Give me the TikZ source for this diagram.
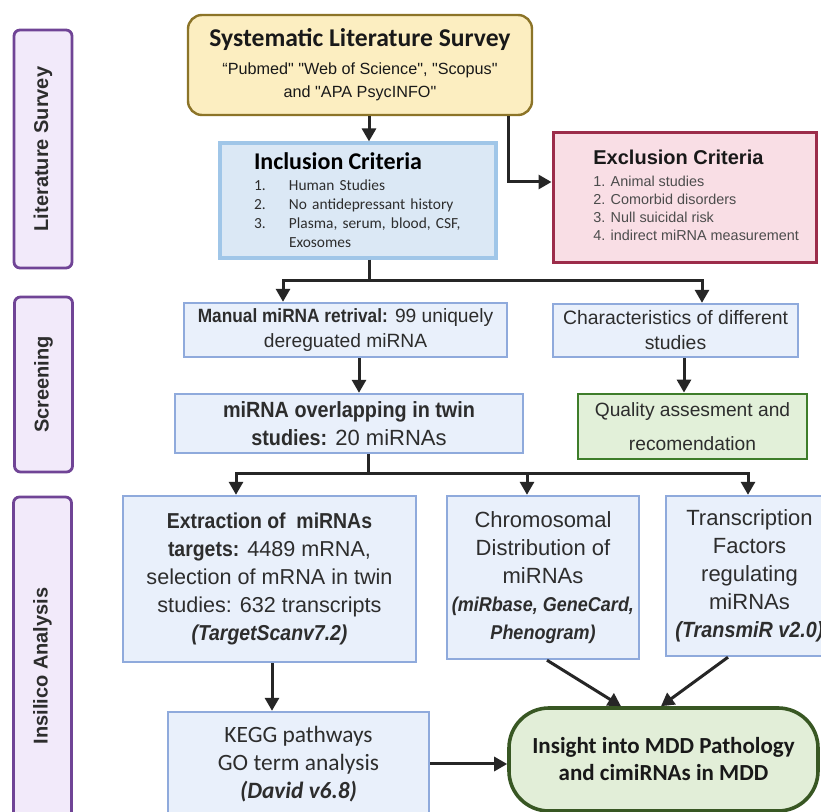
\documentclass[tikz,border=0pt]{standalone}
\usepackage{fontspec}
\setmainfont{Liberation Sans}[Ligatures=TeXOff,BoldFeatures={FakeStretch=0.9},BoldItalicFeatures={FakeStretch=0.9}]
\newfontfamily\plainsans{Liberation Sans}[Ligatures=TeXOff]
\newfontfamily\calfont{Carlito}
\usepackage{tikz}
\usetikzlibrary{arrows.meta,shapes,positioning}
\usepackage{xcolor}
\definecolor{stagepurple}{RGB}{112,68,150}
\definecolor{stagefill}{RGB}{242,234,250}
\definecolor{surveygold}{RGB}{140,116,40}
\definecolor{surveyfill}{RGB}{252,238,193}
\definecolor{inclblue}{RGB}{160,198,232}
\definecolor{inclfill}{RGB}{219,232,245}
\definecolor{procblue}{RGB}{143,170,220}
\definecolor{procfill}{RGB}{233,240,251}
\definecolor{exclred}{RGB}{156,44,74}
\definecolor{exclfill}{RGB}{249,222,229}
\definecolor{qualgreen}{RGB}{62,125,42}
\definecolor{qualfill}{RGB}{226,240,217}
\definecolor{insightgreen}{RGB}{56,87,35}
\definecolor{insightfill}{RGB}{226,238,216}
\definecolor{textgray}{RGB}{45,45,45}
\tikzstyle{arrow} = [line width=1.5pt, -{Triangle[width=7pt,length=6.5pt]}, color=black!85]
\tikzstyle{stage} = [rectangle, rounded corners=3pt, rotate=90, draw=stagepurple, fill=stagefill, line width=1.4pt, minimum height=29pt, text=textgray, font=\plainsans\bfseries\fontsize{10}{12}\selectfont]
\tikzstyle{procbox} = [rectangle, draw=procblue, fill=procfill, line width=1.2pt, align=center, inner sep=0pt, text=textgray]

\begin{document}
\begin{tikzpicture}[x=0.5pt, y=-0.5pt]
\useasboundingbox (0,0) rectangle (821,812);
\clip (0,0) rectangle (821,812);
\fill[white] (0,0) rectangle (821,812);

% Stages
\node (litstage) [stage, minimum width=119pt] at (43,149) {Literature Survey};
\node (screenstage) [stage, minimum width=87.5pt] at (43.5,384.5) {Screening};
\node (silicostage) [stage, minimum width=169pt] at (42.5,666) {Insilico Analysis};

% Literature survey
\node (survey) [rectangle, rounded corners=7pt, draw=surveygold, fill=surveyfill, line width=1.2pt, minimum width=172pt, minimum height=50pt, align=center, inner sep=0pt, font=\fontsize{8.1}{11.5}\selectfont, text=black!90] at (360,65) {{\calfont\bfseries\fontsize{12.8}{11.5}\selectfont Systematic Literature Survey}\\[2.5pt]“Pubmed" "Web of Science", "Scopus"\\and "APA PsycINFO"};

\node (inclusion) [rectangle, draw=inclblue, fill=inclfill, line width=1.6pt, minimum width=138pt, minimum height=57.5pt, text width=104pt, align=left, inner sep=0pt, font=\calfont\fontsize{7.7}{9.5}\selectfont, text=textgray] at (358,200.5) {{\color{black}\bfseries\fontsize{12}{9.5}\selectfont Inclusion Criteria}\\[1pt]\makebox[17.5pt][l]{1.}Human Studies\\\makebox[17.5pt][l]{2.}No antidepressant history\\\makebox[17.5pt][l]{3.}Plasma, serum, blood, CSF,\\\hspace*{17.5pt}Exosomes};

\node (exclusion) [rectangle, draw=exclred, fill=exclfill, line width=1.5pt, minimum width=131.5pt, minimum height=65pt] at (684.5,198) {};
\node (excltext) [anchor=west, align=left, inner sep=0pt, font=\plainsans\fontsize{7.2}{9}\selectfont, text=black!70] at (593,195) {{\color{black!90}\bfseries\fontsize{10}{9}\selectfont Exclusion Criteria}\\[2pt]1. Animal studies\\2. Comorbid disorders\\3. Null suicidal risk\\4. indirect miRNA measurement};

% Screening
\node (manual) [procbox, minimum width=161.5pt, minimum height=27pt, font=\fontsize{9.6}{12.5}\selectfont] at (345.5,330) {\textbf{Manual miRNA retrival:} 99 uniquely\\dereguated miRNA};
\node (character) [procbox, minimum width=122.5pt, minimum height=26.5pt, font=\fontsize{9.7}{12.5}\selectfont] at (675.5,330.5) {Characteristics of different\\studies};
\node (overlap) [procbox, minimum width=174pt, minimum height=29.5pt, font=\fontsize{11}{14}\selectfont] at (349,423.5) {\textbf{miRNA overlapping in twin}\\\textbf{studies:} 20 miRNAs};
\node (quality) [procbox, draw=qualgreen, fill=qualfill, line width=1.4pt, minimum width=114.5pt, minimum height=32.5pt, font=\fontsize{9.6}{17}\selectfont] at (692.5,426.5) {Quality assesment and\\recomendation};

% Insilico analysis
\node (extraction) [procbox, minimum width=146.5pt, minimum height=83pt, font=\fontsize{10.8}{14}\selectfont] at (269.5,579) {\textbf{Extraction of~ miRNAs}\\\textbf{targets:} 4489 mRNA,\\selection of mRNA in twin\\studies: 632 transcripts\\\textbf{\textit{(TargetScanv7.2)}}};
\node (chromosomal) [procbox, minimum width=96pt, minimum height=81.5pt, font=\fontsize{11}{14}\selectfont] at (543,577.5) {Chromosomal\\Distribution of\\miRNAs\\{\fontsize{10}{14}\selectfont\bfseries\itshape (miRbase, GeneCard,}\\{\fontsize{10}{14}\selectfont\bfseries\itshape Phenogram)}};
\node (transcription) [procbox, minimum width=83.5pt, minimum height=80pt, font=\fontsize{11}{14}\selectfont] at (749.5,576) {Transcription\\Factors\\regulating\\miRNAs\\\textbf{\textit{(TransmiR v2.0)}}};
\node (kegg) [procbox, minimum width=130.5pt, minimum height=52pt, font=\calfont\fontsize{11.7}{14}\selectfont] at (298.5,764) {KEGG pathways\\GO term analysis\\{\bfseries\itshape (David v6.8)}};
\node (insight) [rectangle, rounded corners=20pt, draw=insightgreen, fill=insightfill, line width=1.8pt, minimum width=154.5pt, minimum height=51.5pt, align=center, inner sep=0pt, font=\calfont\bfseries\fontsize{11.5}{13.5}\selectfont, text=black!90] at (663.5,759.5) {Insight into MDD Pathology\\and cimiRNAs in MDD};

% Arrows
\coordinate (forkA) at (369,281);
\coordinate (forkB) at (368,474);
\coordinate (exclbend) at (508,182);

\draw[arrow] (survey.south -| forkA) -- (inclusion.north -| forkA);
\draw[arrow] (survey.south -| exclbend) |- (exclusion.west |- exclbend);

\draw[arrow] (inclusion.south -| forkA) -- (forkA) -| ([xshift=-31.25pt]manual.north);
\draw[arrow] (forkA) -| ([xshift=13.25pt]character.north);
\draw[arrow] ([xshift=6.75pt]manual.south) -- ([xshift=6.75pt]manual.south |- overlap.north);
\draw[arrow] ([xshift=4.25pt]character.south) -- ([xshift=4.25pt]character.south |- quality.north);

\draw[arrow] (overlap.south -| forkB) -- (forkB) -| ([xshift=-16.75pt]extraction.north);
\draw[arrow] (forkB) -| ([xshift=-8pt]chromosomal.north);
\draw[arrow] (forkB) -| ([xshift=-0.75pt]transcription.north);

\draw[arrow] ([xshift=1.25pt]extraction.south) -- ([xshift=1.25pt]extraction.south |- kegg.north);
\draw[arrow] ([xshift=2pt]chromosomal.south) -- ([xshift=-21.25pt]insight.north);
\draw[arrow] ([xshift=-10.75pt]transcription.south) -- ([xshift=-1.25pt]insight.north);
\draw[arrow] (kegg.east) -- (kegg.east -| insight.west);
\end{tikzpicture}
\end{document}
